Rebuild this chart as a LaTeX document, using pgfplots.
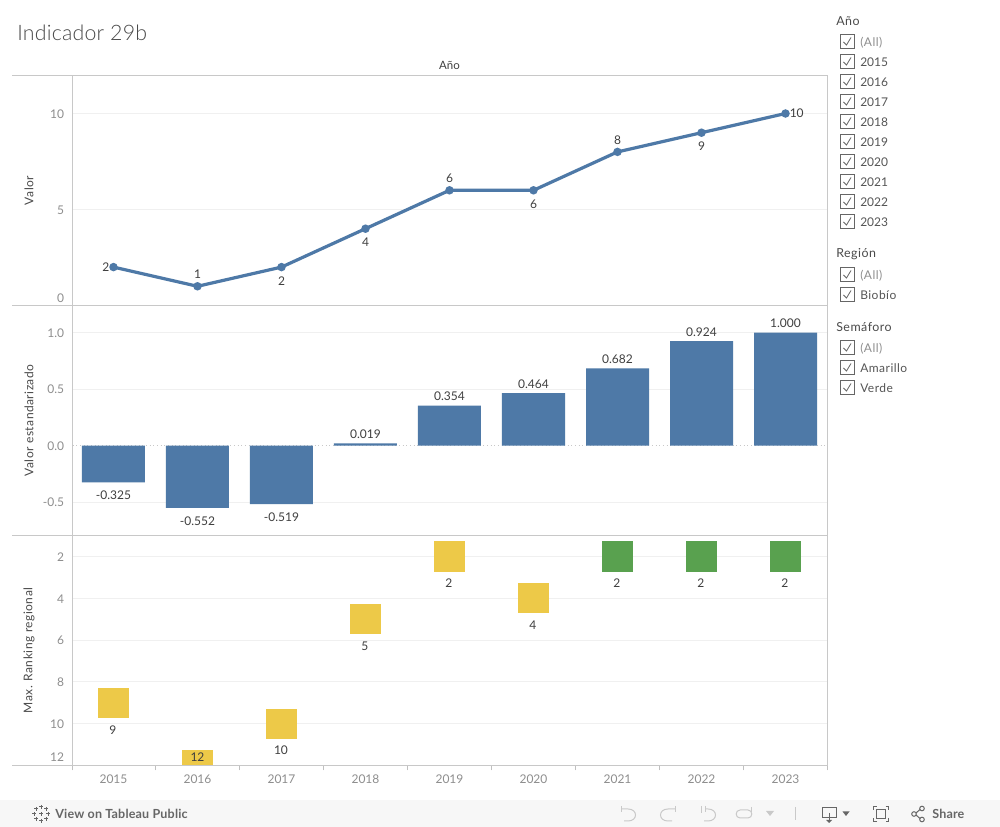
\documentclass[border=0pt]{standalone}
\usepackage{fontspec}
\setmainfont{Lato}
\newfontfamily\titlefont{Lato Light}[LetterSpace=1]
\newfontfamily\ls{Lato}[LetterSpace=4]
\newfontfamily\lsb{Lato Bold}[LetterSpace=1.5]
\usepackage{pgfplots}
\pgfplotsset{compat=1.18}
\definecolor{tblue}{HTML}{4E79A7}
\definecolor{tyellow}{HTML}{EDC948}
\definecolor{tgreen}{HTML}{59A14F}
\definecolor{framegray}{HTML}{C8C8C8}
\definecolor{gridgray}{HTML}{F0F0F0}
\definecolor{ticktxt}{HTML}{8E8E8E}
\definecolor{lbltxt}{HTML}{3F3F3F}
\definecolor{axtxt}{HTML}{4A4A4A}
\definecolor{filtertxt}{HTML}{555555}
\definecolor{iconlight}{HTML}{C9C9C9}
\definecolor{icondark}{HTML}{666666}

\pgfplotsset{
  panel/.style={
    anchor=south west,
    scale only axis,
    width=566.25pt, height=172.5pt,
    xmin=-0.488, xmax=8.5,
    axis line style={draw=none},
    ymajorgrids,
    grid style={gridgray, line width=0.75pt},
    xtick=\empty,
    major tick length=0pt,
    tick style={draw=none},
    ticklabel style={font=\fontsize{9}{11}\selectfont, text=ticktxt},
    yticklabel style={xshift=-2.8pt, yshift=-0.4pt},
    every axis y label/.style={
      at={(axis description cs:-0.0576,0.5)}, rotate=90, anchor=center,
      font=\ls\fontsize{9}{10}\selectfont, text=axtxt},
    nodes near coords,
    every node near coord/.append style={font=\fontsize{9}{11}\selectfont, text=lbltxt},
    point meta=explicit symbolic,
  },
  labelsonly/.style={draw=none, mark=none, forget plot},
}

\begin{document}
\begin{tikzpicture}
\path[use as bounding box, fill=white] (0,0) rectangle (750pt,620.25pt);

% Valor
\begin{axis}[panel, at={(54.375pt,391.125pt)},
  ymin=0, ymax=11.98,
  ytick={0,5,10},
  yticklabels={\raisebox{2.8pt}[0pt][0pt]{0},5,10},
  ylabel={Valor},
  ]
  \addplot[tblue, line width=2.4pt, mark=*, mark size=1.9pt, nodes near coords={}] table {
    x y
    0 2
    1 1
    2 2
    3 4
    4 6
    5 6
    6 8
    7 9
    8 10
  };
  \addplot[labelsonly, every node near coord/.append style={anchor=south, yshift=2pt}]
    table [meta=l] {
    x y l
    1 1 1
    4 6 6
    6 8 8
  };
  \addplot[labelsonly, every node near coord/.append style={anchor=north, yshift=-3.5pt}]
    table [meta=l] {
    x y l
    2 2 2
    3 4 4
    5 6 6
    7 9 9
  };
  \addplot[labelsonly, every node near coord/.append style={anchor=east, inner sep=2pt, xshift=-1pt}]
    table [meta=l] {
    x y l
    0 2 2
  };
  \addplot[labelsonly, every node near coord/.append style={anchor=west, inner sep=2pt, xshift=1pt}]
    table [meta=l] {
    x y l
    8 10 10
  };
\end{axis}

% Valor estandarizado
\begin{axis}[panel, at={(54.375pt,218.625pt)},
  ymin=-0.796, ymax=1.239,
  ytick={-0.5,0.5,1},
  yticklabels={-0.5,0.5,1.0},
  extra y ticks={0},
  extra y tick labels={0.0},
  extra y tick style={grid style={framegray, line width=0.75pt, dotted}},
  ylabel={Valor estandarizado},
  ]
  \addplot[ybar, bar width=47.25pt, bar shift=0pt, fill=tblue, draw=none,
    every node near coord/.append style={anchor=south}]
    table [meta=l] {
    x y l
    3 0.019 0.019
    4 0.354 0.354
    5 0.464 0.464
    6 0.682 0.682
    7 0.924 0.924
    8 1.000 1.000
  };
  \addplot[ybar, bar width=47.25pt, bar shift=0pt, fill=tblue, draw=none,
    every node near coord/.append style={anchor=north, yshift=-3pt}]
    table [meta=l] {
    x y l
    0 -0.325 -0.325
    1 -0.552 -0.552
    2 -0.519 -0.519
  };
\end{axis}

% Max. Ranking regional
\begin{axis}[panel, at={(54.375pt,46.125pt)},
  y dir=reverse,
  ymin=1, ymax=12,
  ytick={2,4,6,8,10,12},
  yticklabels={2,4,6,8,10,\raisebox{3.2pt}[0pt][0pt]{12}},
  ylabel={Max. Ranking regional},
  xtick={0,1,2,3,4,5,6,7,8},
  xticklabels={2015,2016,2017,2018,2019,2020,2021,2022,2023},
  minor xtick={-0.488,0.5,1.5,2.5,3.5,4.5,5.5,6.5,7.5,8.5},
  minor tick length=3.75pt,
  xtick pos=bottom,
  tick align=outside,
  minor tick style={draw=gridgray!80!black, line width=0.5pt},
  xticklabel style={yshift=-3.5pt},
  clip marker paths=true,
  ]
  \addplot[only marks, mark=square*, mark size=11pt,
    mark options={fill=tyellow, draw=tyellow, line width=0pt}, nodes near coords={}] table {
    x y
    0 9
    1 12
    2 10
    3 5
    4 2
    5 4
  };
  \addplot[only marks, mark=square*, mark size=11pt,
    mark options={fill=tgreen, draw=tgreen, line width=0pt}, nodes near coords={}] table {
    x y
    6 2
    7 2
    8 2
  };
  \addplot[labelsonly, every node near coord/.append style={anchor=center, yshift=-20.25pt, xshift=-0.4pt}]
    table [meta=l] {
    x y l
    0 9 9
    2 10 10
    3 5 5
    4 2 2
    5 4 4
    6 2 2
    7 2 2
    8 2 2
  };
  \addplot[labelsonly, every node near coord/.append style={anchor=center, yshift=6.5pt}]
    table [meta=l] {
    x y l
    1 12 12
  };
\end{axis}

% everything around the panels, in reference pixels measured from the top left
\begin{scope}[yshift=620.25pt, x=0.75pt, y=-0.75pt]
  \node[anchor=west, inner sep=0pt, text=axtxt, font=\titlefont\fontsize{16}{19}\selectfont] at (17,33) {Indicador 29b};
  \node[text=lbltxt, font=\fontsize{8.6}{10}\selectfont] at (449.5,65.5) {Año};

  \draw[framegray, line width=0.75pt]
    (12,75.5) -- (827.5,75.5) (12,305.5) -- (827.5,305.5)
    (12,535.5) -- (827.5,535.5) (12,765.5) -- (827.5,765.5)
    (72.5,75.5) -- (72.5,765.5) (827.5,75.5) -- (827.5,765.5);

  % filter cards
  \tikzset{
    fhead/.style={anchor=west, inner sep=0pt, text=axtxt, font=\ls\fontsize{9.3}{11}\selectfont},
    fitem/.style={anchor=west, inner sep=0pt, text=filtertxt, text height=7pt, text depth=2pt,
      font=\fontsize{9}{11}\selectfont},
  }
  \foreach \yy/\txt in {41/{\ls\color{ticktxt}(All)},61/2015,81/2016,101/2017,121/2018,141/2019,161/2020,181/2021,201/2022,221/2023,
                        274/{\ls\color{ticktxt}(All)},294/{\ls Biobío},
                        347/{\ls\color{ticktxt}(All)},367/{\ls Amarillo},387/{\ls Verde}} {
    \draw[icondark, line width=0.6pt] (840.5,\yy-6.5) rectangle (854.5,\yy+7.5);
    \draw[icondark, line width=0.6pt] (843.5,\yy+1) -- (846.5,\yy+4) -- (851,\yy-3.5);
    \node[fitem] at (860,\yy+2) {\txt};
  }
  \node[fhead] at (836,21) {Año};
  \node[fhead] at (836,254.5) {Región};
  \node[fhead] at (836,327.5) {Semáforo};

  % toolbar
  \fill[black!3] (0,800) rectangle (1000,827);
  \begin{scope}[icondark, line width=0.75pt]
    \foreach \dx/\dy in {0/0,-7/0,7/0,0/-7,0/7,-5/-5,5/-5,-5/5,5/5} {
      \draw (41+\dx-2,814+\dy) -- (41+\dx+2,814+\dy) (41+\dx,814+\dy-2) -- (41+\dx,814+\dy+2);
    }
  \end{scope}
  \node[anchor=west, inner sep=0pt, text=icondark, font=\lsb\fontsize{9.4}{11}\selectfont] at (55,813.5) {View on Tableau Public};
  \begin{scope}[iconlight, line width=0.75pt]
    % undo
    \draw (621,809) -- (628,809) .. controls (638,809) and (638,821) .. (628,821) -- (624,821);
    \draw (621,806) -- (621,812);
    % redo
    \draw (675,809) -- (668,809) .. controls (658,809) and (658,821) .. (668,821) -- (672,821);
    \draw (675,806) -- (675,812);
    % revert
    \draw (705,809) -- (708,809) .. controls (718,809) and (718,821) .. (708,821) -- (704,821);
    \draw (701,806) -- (701,813);
    \draw (705,806) -- (705,812);
    % refresh
    \draw (740,810) -- (748,810) .. controls (753,810) and (753,818) .. (748,818) -- (740,818)
          .. controls (735,818) and (735,810) .. (740,810);
    \draw (751,807) -- (751,812);
    \fill (766,811) -- (774,811) -- (770,816) -- cycle;
    \draw (795.5,807) -- (795.5,820);
  \end{scope}
  \begin{scope}[icondark, line width=0.75pt]
    \draw (829,818) -- (822.5,818) -- (822.5,807.5) -- (836.5,807.5) -- (836.5,818) -- (829,818);
    \draw (829,813) -- (829,821);
    \fill (826,820) -- (832,820) -- (829,823) -- cycle;
    \fill (842.5,811.5) -- (849.5,811.5) -- (846,816) -- cycle;
    \draw (873.5,810) -- (873.5,806.5) -- (877,806.5) (885.5,806.5) -- (888.5,806.5) -- (888.5,810)
          (888.5,818) -- (888.5,821.5) -- (885.5,821.5) (877,821.5) -- (873.5,821.5) -- (873.5,818);
    \draw (876.5,809.5) rectangle (885.5,818.5);
    \draw (914,814) circle (2.3) (922,808.5) circle (2.3) (922,819.5) circle (2.3);
    \draw (916,813) -- (920,809.5) (916,815) -- (920,818.5);
  \end{scope}
  \node[anchor=west, inner sep=0pt, text=icondark, font=\lsb\fontsize{9.4}{11}\selectfont] at (932,813.5) {Share};
\end{scope}
\end{tikzpicture}
\end{document}
